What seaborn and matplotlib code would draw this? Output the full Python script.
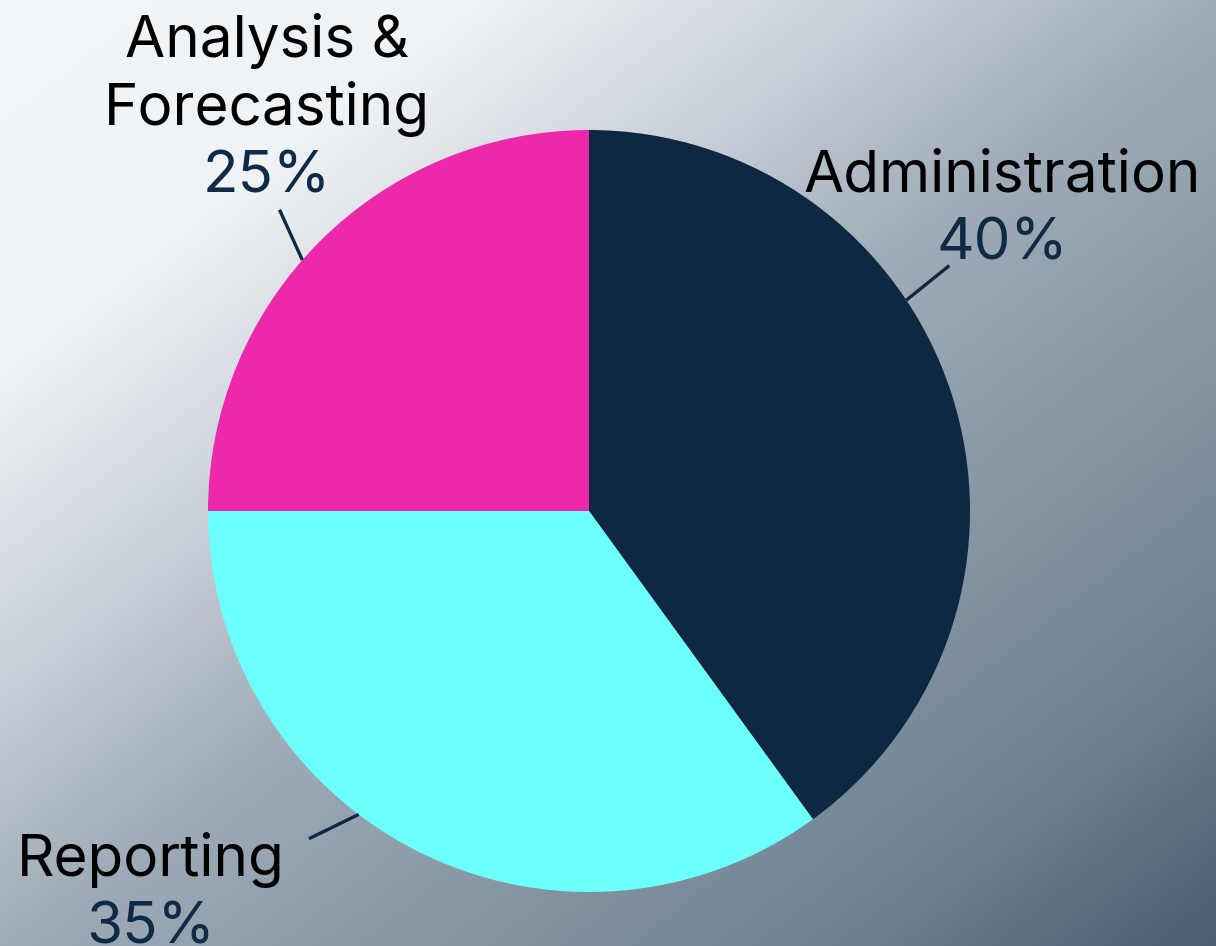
import numpy as np
import matplotlib
matplotlib.use("Agg")
import matplotlib.pyplot as plt
from matplotlib.colors import to_rgb
import seaborn as sns

# data
categories = ["Administration", "Reporting", "Analysis &\nForecasting"]
shares = [40, 35, 25]
slice_colors = ["#0d2840", "#6cfffb", "#ee28ab"]

# label layout (in pie-radius units) and leader lines (start angle on rim, direction)
label_x = [1.084, -1.151, -0.845]
pct_baseline = [0.659, -1.136, 0.835]
leader_start = [33.6, 232.8, 138.8]
leader_dir = [38.8, 206, 114.4]
leader_len = 0.145
line_step = 0.1785

sns.set_theme(style="white")
plt.rcParams["font.family"] = ["Inter", "DejaVu Sans"]

W, H = 1216, 946
fig = plt.figure(figsize=(W / 100, H / 100), dpi=100)

# background gradient (top-left light -> bottom-right slate)
bg = fig.add_axes([0, 0, 1, 1], zorder=0)
xx, yy = np.meshgrid(np.linspace(0, 1, W), np.linspace(0, 1, H))
t = (xx + yy) / 2
stops = [0, 0.2, 0.37, 0.5, 0.84, 1.0]
stop_cols = ["#f3f6f9", "#f0f3f6", "#c6cdd6", "#a0acb8", "#6e8292", "#4a5d71"]
rgb = np.array([to_rgb(c) for c in stop_cols])
img = np.dstack([np.interp(t, stops, rgb[:, k]) for k in range(3)])
bg.imshow(img, aspect="auto", extent=[0, 1, 0, 1], origin="upper")
bg.axis("off")

# pie axes: centre (589, 511) px, radius 381 px
r_px = 381
cx, cy = 589, 511
ax = fig.add_axes([(cx - r_px) / W, (H - cy - r_px) / H, 2 * r_px / W, 2 * r_px / H], zorder=1)
ax.patch.set_alpha(0)
ax.pie(shares, colors=slice_colors, startangle=90, counterclock=False,
       wedgeprops=dict(linewidth=0))
ax.set_xlim(-1, 1)
ax.set_ylim(-1, 1)
ax.set_aspect("equal")
ax.axis("off")

for name, val, lx, pb, a0, ad in zip(categories, shares, label_x, pct_baseline,
                                      leader_start, leader_dir):
    x0, y0 = np.cos(np.deg2rad(a0)), np.sin(np.deg2rad(a0))
    x1 = x0 + leader_len * np.cos(np.deg2rad(ad))
    y1 = y0 + leader_len * np.sin(np.deg2rad(ad))
    ax.plot([x0, x1], [y0, y1], color="#0d2840", lw=2.4,
            solid_capstyle="butt", clip_on=False)
    ax.text(lx, pb, f"{val}%", ha="center", va="baseline", fontsize=42,
            color="#0f2a44", clip_on=False)
    for i, part in enumerate(reversed(name.split("\n"))):
        ax.text(lx, pb + line_step * (i + 1), part, ha="center", va="baseline",
                fontsize=42, color="black", clip_on=False)

fig.savefig("out.png", dpi=100)
